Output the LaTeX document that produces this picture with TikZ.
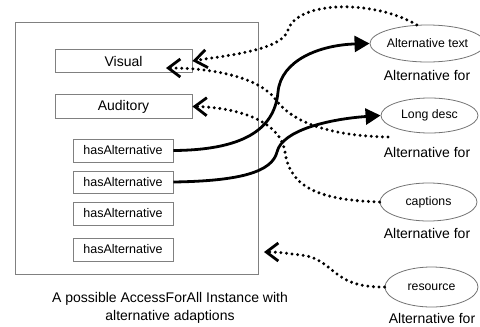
\documentclass[tikz,border=0pt]{standalone}
\usepackage{fontspec}
\setmainfont{Liberation Sans}
\usetikzlibrary{arrows.meta,shapes.geometric}
\begin{document}
\begin{tikzpicture}[x=1pt,y=-1pt,
  frame/.style={draw=black!50,line width=0.9pt,inner sep=0pt},
  bigbox/.style={frame,minimum width=137pt,minimum height=23.5pt,font=\fontsize{14}{16}\selectfont},
  altbox/.style={frame,minimum width=100pt,minimum height=23pt,font=\fontsize{12.5}{14}\selectfont},
  oval/.style={ellipse,draw=black!55,line width=0.8pt,inner sep=0pt,font=\fontsize{12.3}{14}\selectfont},
  lbl/.style={font=\fontsize{14}{16}\selectfont,inner sep=0pt},
  dotarrow/.style={line width=3.3pt,line cap=round,dash pattern=on 0pt off 5.6pt,
    -{Straight Barb[length=12pt,width=18pt,line width=2.8pt]}},
  solidarrow/.style={line width=2.8pt,-{Triangle[length=15pt,width=16pt]}}]
\useasboundingbox (0,0) rectangle (480,327);
\node[frame,minimum width=243pt,minimum height=252pt] (outer) at (136.5,148) {};
\node[bigbox] (visual) at (123.5,61) {Visual};
\node[bigbox] (auditory) at (123.5,106.5) {Auditory};
\node[altbox] (ha1) at (123,150.5) {hasAlternative};
\node[altbox,minimum height=22pt] (ha2) at (123,182) {hasAlternative};
\node[altbox] (ha3) at (123,213.5) {hasAlternative};
\node[altbox] (ha4) at (123,249.5) {hasAlternative};
\node[lbl,align=center] (cap) at (170,308) {A possible AccessForAll Instance with\\[2pt]alternative adaptions};
\node[oval,minimum width=91pt,minimum height=37pt] (alttext) at (427.5,43.5) {Alternative text};
\node[oval,minimum width=97pt,minimum height=35pt] (longdesc) at (429.5,115.5) {Long desc};
\node[oval,minimum width=97pt,minimum height=38pt] (captions) at (428.5,202) {captions};
\node[oval,minimum width=93pt,minimum height=40pt] (resource) at (431.5,287) {resource};
\node[lbl] (af1) at (427,75) {Alternative for};
\node[lbl] (af2) at (427,152) {Alternative for};
\node[lbl] (af3) at (427,233) {Alternative for};
\node[lbl] (af4) at (432,318) {Alternative for};
\coordinate (vin) at (166,68);
\coordinate (ldend) at (388,137);
\coordinate (outin) at (264,252);
% dotted
\draw[dotarrow] (alttext.120) .. controls (375,0) and (298,0) .. (288,30) .. controls (282,50) and (230,55) .. (visual.east);
\draw[dotarrow] (ldend) .. controls (330,136) and (292,122) .. (276,100) .. controls (262,80) and (220,68) .. (vin);
\draw[dotarrow] (captions.west) .. controls (320,200) and (290,188) .. (285,152) .. controls (280,118) and (230,107) .. (auditory.east);
\draw[dotarrow] (resource.west) .. controls (330,288) and (335,258) .. (300,255) .. controls (285,253) and (278,252) .. (outin);
% solid
\draw[solidarrow] (ha1.east) .. controls (250,150) and (275,125) .. (278,92) .. controls (281,60) and (320,45) .. (alttext.west);
\draw[solidarrow] (ha2.east) .. controls (240,181) and (272,172) .. (277,152) .. controls (282,130) and (330,119) .. (longdesc.west);
\end{tikzpicture}
\end{document}
